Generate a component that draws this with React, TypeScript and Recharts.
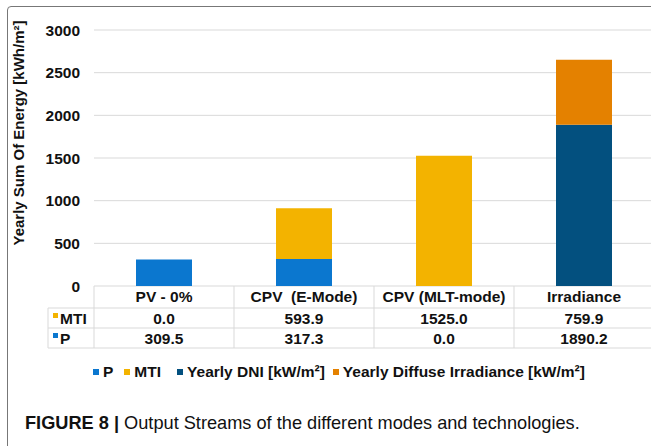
import React from 'react'
import { BarChart, Bar, Cell, XAxis, YAxis, CartesianGrid, Legend } from 'recharts'

const categories = ['PV - 0%', 'CPV  (E-Mode)', 'CPV (MLT-mode)', 'Irradiance']
const mtiValues = [0.0, 593.9, 1525.0, 759.9]
const pValues = [309.5, 317.3, 0.0, 1890.2]
const yTicks = [0, 500, 1000, 1500, 2000, 2500, 3000]

const P_COLOR = '#0B77CF'
const MTI_COLOR = '#F3B300'
const DNI_COLOR = '#03507F'
const DIFFUSE_COLOR = '#E48100'

const legendItems = [
  { name: 'P', color: P_COLOR, gap: 11 },
  { name: 'MTI', color: MTI_COLOR, gap: 16 },
  { name: 'Yearly DNI [kW/m²]', color: DNI_COLOR, gap: 8 },
  { name: 'Yearly Diffuse Irradiance [kW/m²]', color: DIFFUSE_COLOR, gap: 0 },
]

const data = categories.map((name, i) => ({ name, P: pValues[i], MTI: mtiValues[i] }))

const FONT = 'Arial, "Liberation Sans", Helvetica, sans-serif'
const LINE = '#d9d9d9'

function TableTick(props: any) {
  const { x, y, payload } = props
  const i = payload.index
  const half = payload.offset || 70
  const left = x - half
  const right = x + half
  const textProps = { textAnchor: 'middle' as const, fontSize: 15.5, fontWeight: 700, fill: '#111', fontFamily: FONT, style: { whiteSpace: 'pre' as const } }
  return (
    <g>
      <line x1={left} x2={left} y1={y} y2={y + 62} stroke={LINE} />
      <line x1={left} x2={right} y1={y + 22} y2={y + 22} stroke={LINE} />
      <line x1={left} x2={right} y1={y + 42} y2={y + 42} stroke={LINE} />
      <line x1={left} x2={right} y1={y + 62} y2={y + 62} stroke={LINE} />
      <text x={x} y={y + 16} {...textProps} xmlSpace="preserve">{payload.value}</text>
      <text x={x} y={y + 37.5} {...textProps}>{mtiValues[i].toFixed(1)}</text>
      <text x={x} y={y + 57.5} {...textProps}>{pValues[i].toFixed(1)}</text>
      {i === 0 && (
        <g>
          <line x1={left - 46} x2={left} y1={y + 22} y2={y + 22} stroke={LINE} />
          <line x1={left - 46} x2={left} y1={y + 42} y2={y + 42} stroke={LINE} />
          <line x1={left - 46} x2={left} y1={y + 62} y2={y + 62} stroke={LINE} />
          <line x1={left - 46} x2={left - 46} y1={y + 22} y2={y + 62} stroke={LINE} />
          <rect x={left - 41} y={y + 27} width={5} height={5} fill={MTI_COLOR} />
          <text x={left - 34} y={y + 37.5} fontSize={15.5} fontWeight={700} fill="#111" fontFamily={FONT}>MTI</text>
          <rect x={left - 41} y={y + 47} width={5} height={5} fill={P_COLOR} />
          <text x={left - 34} y={y + 57.5} fontSize={15.5} fontWeight={700} fill="#111" fontFamily={FONT}>P</text>
        </g>
      )}
    </g>
  )
}

function LegendContent() {
  return (
    <div style={{ display: 'flex', alignItems: 'center', height: 20, paddingLeft: 93, fontFamily: FONT, fontSize: 15.5, fontWeight: 700, color: '#111' }}>
      {legendItems.map((item) => (
        <div key={item.name} style={{ display: 'flex', alignItems: 'center', marginRight: item.gap }}>
          <span style={{ width: 6, height: 6, background: item.color, marginRight: 4, display: 'inline-block' }} />
          <span>{item.name}</span>
        </div>
      ))}
    </div>
  )
}

export default function App() {
  return (
    <div style={{ position: 'absolute', left: 0, top: 0, width: 651, height: 446, overflow: 'hidden', background: '#fff' }}>
      <div style={{ position: 'absolute', left: 7, top: 6, width: 700, height: 500, border: '1.5px solid #777', borderRadius: 4 }} />
      <div style={{ position: 'absolute', left: 0, top: 0 }}>
        <BarChart width={651} height={400} data={data} margin={{ top: 30, right: -3, bottom: 18, left: 0 }}>
          <CartesianGrid vertical={false} stroke={LINE} />
          <XAxis
            dataKey="name"
            axisLine={false}
            tickLine={false}
            tickSize={0}
            tickMargin={0}
            height={76}
            interval={0}
            tick={<TableTick />}
          />
          <YAxis
            width={94}
            domain={[0, 3000]}
            ticks={yTicks}
            axisLine={false}
            tickLine={false}
            tickSize={0}
            tickMargin={14}
            tick={{ fontSize: 15.5, fontWeight: 700, fill: '#111', fontFamily: FONT }}
            label={{
              content: () => (
                <text
                  x={24}
                  y={133}
                  transform="rotate(-90 24 133)"
                  textAnchor="middle"
                  fontSize={15}
                  fontWeight={700}
                  fill="#111"
                  fontFamily={FONT}
                >
                  Yearly Sum Of Energy [kWh/m²]
                </text>
              ),
            }}
          />
          <Legend verticalAlign="bottom" wrapperStyle={{ left: 0, width: 651 }} content={() => <LegendContent />} />
          <Bar dataKey="P" name="P" stackId="a" barSize={56} isAnimationActive={false}>
            {data.map((d, i) => (
              <Cell key={`p-${i}`} fill={d.name === 'Irradiance' ? DNI_COLOR : P_COLOR} />
            ))}
          </Bar>
          <Bar dataKey="MTI" name="MTI" stackId="a" barSize={56} isAnimationActive={false}>
            {data.map((d, i) => (
              <Cell key={`m-${i}`} fill={d.name === 'Irradiance' ? DIFFUSE_COLOR : MTI_COLOR} />
            ))}
          </Bar>
        </BarChart>
      </div>
      <div style={{ position: 'absolute', left: 25, top: 413, fontFamily: FONT, fontSize: 18.2, color: '#111', whiteSpace: 'nowrap' }}>
        <b>FIGURE 8 |</b> Output Streams of the different modes and technologies.
      </div>
    </div>
  )
}
